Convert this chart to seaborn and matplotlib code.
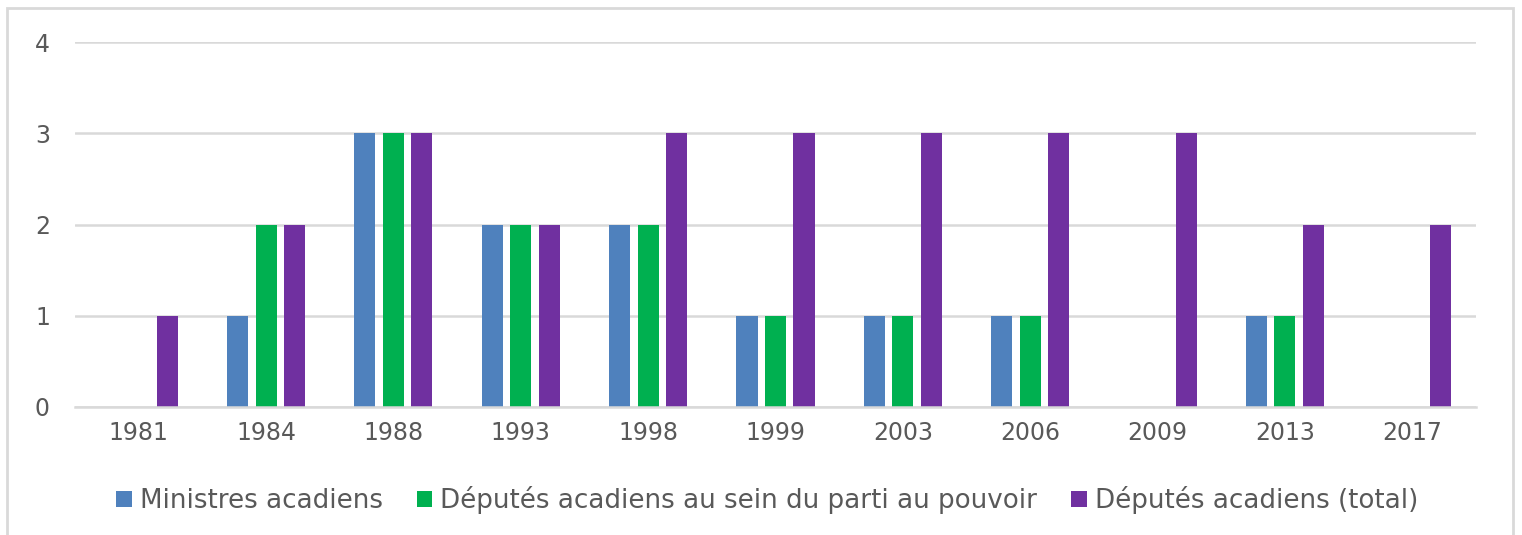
import matplotlib
matplotlib.use("Agg")
import matplotlib.pyplot as plt
import seaborn as sns
import pandas as pd
from matplotlib.patches import Rectangle

years = ["1981", "1984", "1988", "1993", "1998", "1999", "2003", "2006", "2009", "2013", "2017"]
ministres = [0, 1, 3, 2, 2, 1, 1, 1, 0, 1, 0]
deputes_parti = [0, 2, 3, 2, 2, 1, 1, 1, 0, 1, 0]
deputes_total = [1, 2, 3, 2, 3, 3, 3, 3, 3, 2, 2]
series = ["Ministres acadiens", "Députés acadiens au sein du parti au pouvoir", "Députés acadiens (total)"]
colors = ["#4F81BD", "#00B050", "#7030A0"]

rows = []
for s, vals in zip(series, [ministres, deputes_parti, deputes_total]):
    for y, v in zip(years, vals):
        rows.append({"Année": y, "Série": s, "Valeur": v})
df = pd.DataFrame(rows)

sns.set_style("white")
plt.rcParams["font.family"] = ["DejaVu Sans"]

fig = plt.figure(figsize=(15.22, 5.35), dpi=100)
ax = fig.add_axes([75/1522, 1 - 407/535, (1476-75)/1522, (407-42)/535])

sns.barplot(data=df, x="Année", y="Valeur", hue="Série", order=years, hue_order=series,
            palette=colors, width=0.671, gap=0.26, ax=ax, saturation=1, legend=True,
            linewidth=0, edgecolor="none")

ax.set_ylim(0, 4)
ax.set_xlim(-0.5, len(years) - 0.5)
ax.set_yticks([0, 1, 2, 3, 4])
ax.yaxis.grid(True, color="#D9D9D9", linewidth=1.8)
ax.set_axisbelow(True)
for side in ["top", "right", "left"]:
    ax.spines[side].set_visible(False)
ax.spines["bottom"].set_color("#D9D9D9")
ax.spines["bottom"].set_linewidth(1.8)
ax.tick_params(axis="both", length=0, labelsize=17, labelcolor="#595959")
ax.tick_params(axis="y", pad=18)
ax.tick_params(axis="x", pad=10)
ax.set_xlabel("")
ax.set_ylabel("")

handles, labels = ax.get_legend_handles_labels()
ax.legend(handles, labels, loc="center", bbox_to_anchor=(0.494, -0.255), ncol=3, frameon=False,
          fontsize=18.8, labelcolor="#595959", handlelength=0.6, handleheight=0.6,
          handletextpad=0.3, columnspacing=1.3)

fig.patches.append(Rectangle((7/1522, -0.01), (1513-7)/1522, 1 - 8/535 + 0.01,
                             transform=fig.transFigure, fill=False, edgecolor="#D9D9D9",
                             linewidth=2))

fig.savefig("out.png", dpi=100)
